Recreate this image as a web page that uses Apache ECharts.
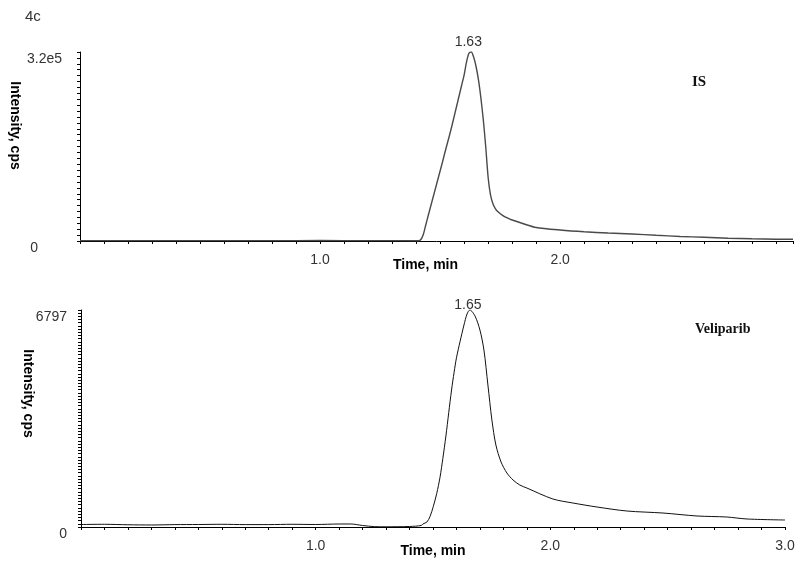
<!DOCTYPE html>
<html>
<head>
<meta charset="utf-8">
<script src="https://cdn.jsdelivr.net/npm/echarts@6/dist/echarts.min.js"></script>
<style>
  html, body { margin: 0; padding: 0; background: #fff; }
  #chart { width: 800px; height: 565px; }
</style>
</head>
<body>
<div id="chart"></div>
<script>
// IS trace (top panel)
const isTime = [0, 0.2, 0.4, 0.6, 0.8, 1.0, 1.2, 1.4, 1.41, 1.42, 1.43, 1.44, 1.45, 1.46, 1.47, 1.48, 1.49,
  1.50, 1.51, 1.52, 1.53, 1.54, 1.55, 1.56, 1.57, 1.58, 1.59, 1.60, 1.61, 1.62, 1.63, 1.64, 1.65, 1.66,
  1.67, 1.68, 1.69, 1.70, 1.71, 1.72, 1.73, 1.74, 1.76, 1.78, 1.80, 1.85, 1.90, 2.0, 2.1, 2.2, 2.3, 2.4, 2.5,
  2.6, 2.7, 2.8, 2.9, 2.97];
const isValue = [600, 700, 600, 700, 600, 800, 600, 500, 300, 2500, 11000, 26700, 42300, 57600, 72800, 88000, 103300,
  118500, 133700, 149800, 165000, 180300, 196400, 213300, 230200, 247200, 264100, 281000, 303000, 318000, 320000, 311000, 295000, 272500,
  242000, 205000, 160000, 108000, 78000, 63000, 55000, 50000, 43500, 39000, 35500, 28800, 22900, 18600, 15600, 13500, 11900, 9700, 7600,
  6300, 4700, 3700, 3000, 2900];

// Veliparib trace (bottom panel)
const velTime = [0, 0.1, 0.2, 0.3, 0.4, 0.5, 0.6, 0.7, 0.8, 0.9, 1.0, 1.1, 1.15, 1.2, 1.25, 1.3, 1.35, 1.4, 1.45,
  1.457, 1.474, 1.487, 1.501, 1.516, 1.530, 1.542, 1.555, 1.567, 1.579, 1.590, 1.600, 1.615, 1.632, 1.645, 1.657,
  1.679, 1.700, 1.717, 1.734, 1.751, 1.768, 1.790, 1.815, 1.841, 1.870, 1.900, 2.011, 2.096, 2.199, 2.326, 2.480,
  2.625, 2.752, 2.838, 3.0];
const velValue = [78, 85, 70, 63, 75, 78, 85, 75, 75, 85, 78, 94, 94, 47, 12, 6, 9, 16, 47,
  94, 157, 323, 636, 1055, 1560, 2150, 2850, 3580, 4291, 4850, 5300, 5800, 6327, 6671, 6797,
  6609, 6170, 5544, 4447, 3351, 2568, 2036, 1691, 1472, 1315, 1221, 877, 752, 626, 501, 438,
  345, 313, 251, 219];

const isMax = 320000;
const velMax = 6797;
const peakLabels = ['1.63', '1.65'];

const chart = echarts.init(document.getElementById('chart'));
const font = 'Liberation Sans, Arial, sans-serif';
const serif = 'Liberation Serif, Times New Roman, serif';

function timeLabel(v) {
  if (v > 0.5 && Math.abs(v - Math.round(v)) < 1e-6) return Math.round(v).toFixed(1);
  return '';
}

function xAxisOpt(grid, max, pad) {
  return {
    type: 'value', gridIndex: grid, min: 0, max: max, interval: 0.1,
    name: 'Time, min', nameLocation: 'middle', nameGap: 17, nameMoveOverlap: false,
    nameTextStyle: { fontFamily: font, fontWeight: 'bold', fontSize: 14, color: '#000', padding: pad },
    axisLine: { show: true, onZero: false, lineStyle: { color: '#000', width: 1 } },
    axisTick: { show: true, length: 3, lineStyle: { color: '#000' } },
    axisLabel: { formatter: timeLabel, fontFamily: font, fontSize: 14, color: '#333', margin: 12,
      showMinLabel: true, showMaxLabel: true },
    splitLine: { show: false }
  };
}

const option = {
  animation: false,
  title: [
    { text: '4c', left: 25, top: 9, padding: 0, textStyle: { fontFamily: font, fontSize: 15, fontWeight: 'normal', color: '#333' } },
    { text: 'IS', left: 692, top: 75, padding: 0, textStyle: { fontFamily: serif, fontSize: 15, fontWeight: 'bold', color: '#111' } },
    { text: 'Veliparib', left: 695, top: 322, padding: 0, textStyle: { fontFamily: serif, fontSize: 14, fontWeight: 'bold', color: '#111' } }
  ],
  grid: [
    { left: 80, top: 52, width: 713, height: 189 },
    { left: 81, top: 310, width: 704, height: 217 }
  ],
  xAxis: [
    xAxisOpt(0, 2.97, [0, 22, 0, 0]),
    xAxisOpt(1, 3.0, [0, 0, 0, 0])
  ],
  yAxis: [
    {
      type: 'value', gridIndex: 0, min: 0, max: isMax, interval: 10000,
      name: 'Intensity, cps', nameLocation: 'middle', nameRotate: -90, nameGap: 58, nameMoveOverlap: false,
      nameTextStyle: { fontFamily: font, fontWeight: 'bold', fontSize: 14, color: '#000', padding: [0, 42, 0, 0] },
      axisLine: { show: true, lineStyle: { color: '#000' } },
      axisTick: { show: true, length: 3, lineStyle: { color: '#000' } },
      axisLabel: {
        fontFamily: font, fontSize: 14, color: '#333', margin: 18, verticalAlign: 'top',
        formatter: v => v === 0 ? '{z|0}' : (v === isMax ? '3.2e5' : ''),
        rich: { z: { fontFamily: font, fontSize: 14, color: '#333', padding: [0, 24, 0, 0] } }
      },
      splitLine: { show: false }
    },
    {
      type: 'value', gridIndex: 1, min: 0, max: velMax, interval: 100,
      name: 'Intensity, cps', nameLocation: 'middle', nameRotate: -90, nameGap: 46, nameMoveOverlap: false,
      nameTextStyle: { fontFamily: font, fontWeight: 'bold', fontSize: 14, color: '#000', padding: [0, 50, 0, 0] },
      axisLine: { show: true, lineStyle: { color: '#000' } },
      axisTick: { show: true, length: 3, lineStyle: { color: '#000' } },
      axisLabel: {
        fontFamily: font, fontSize: 14, color: '#333', margin: 14, verticalAlign: 'top',
        formatter: v => (v === 0 || v === velMax) ? String(v) : ''
      },
      splitLine: { show: false }
    }
  ],
  series: [
    {
      type: 'line', xAxisIndex: 0, yAxisIndex: 0, showSymbol: false, smooth: 0.25,
      data: isTime.map((t, i) => [t, isValue[i]]),
      lineStyle: { color: '#4a4a4a', width: 1.4 },
      markPoint: {
        symbol: 'circle', symbolSize: 1, itemStyle: { color: 'rgba(0,0,0,0)' },
        label: { show: true, position: 'top', distance: 4, offset: [-3, 2], formatter: peakLabels[0],
          fontFamily: font, fontSize: 14, color: '#333' },
        data: [{ type: 'max' }]
      }
    },
    {
      type: 'line', xAxisIndex: 1, yAxisIndex: 1, showSymbol: false, smooth: 0.3,
      data: velTime.map((t, i) => [t, velValue[i]]),
      lineStyle: { color: '#111', width: 1 },
      markPoint: {
        symbol: 'circle', symbolSize: 1, itemStyle: { color: 'rgba(0,0,0,0)' },
        label: { show: true, position: 'top', distance: 0, offset: [-2, 3], formatter: peakLabels[1],
          fontFamily: font, fontSize: 14, color: '#333' },
        data: [{ type: 'max' }]
      }
    }
  ]
};

chart.setOption(option);
</script>
</body>
</html>
